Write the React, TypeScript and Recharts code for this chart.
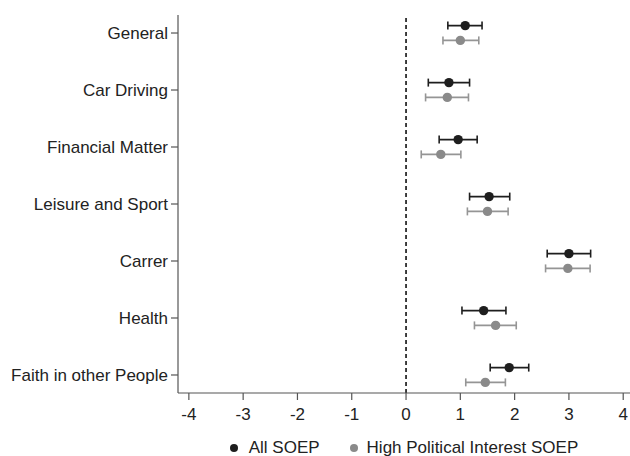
import React from 'react';
import { ScatterChart, Scatter, XAxis, YAxis, ErrorBar, ReferenceLine, Legend } from 'recharts';

const categories = [
  'General',
  'Car Driving',
  'Financial Matter',
  'Leisure and Sport',
  'Carrer',
  'Health',
  'Faith in other People',
];

const allEstimate = [1.09, 0.79, 0.96, 1.53, 3.0, 1.43, 1.9];
const allLower = [0.77, 0.41, 0.61, 1.17, 2.6, 1.03, 1.55];
const allUpper = [1.4, 1.17, 1.31, 1.91, 3.4, 1.84, 2.26];

const highEstimate = [1.0, 0.76, 0.64, 1.5, 2.98, 1.65, 1.46];
const highLower = [0.68, 0.36, 0.28, 1.13, 2.57, 1.26, 1.1];
const highUpper = [1.34, 1.15, 1.01, 1.88, 3.39, 2.03, 1.83];

const xTicks = [-4, -3, -2, -1, 0, 1, 2, 3, 4];
const rowTicks = [0, 1, 2, 3, 4, 5, 6];

const seriesNames = ['All SOEP', 'High Political Interest SOEP'];

const BLACK = '#1e1e1e';
const GRAY = '#8a8a8a';
const GRAY_BAR = '#959595';
const FONT = '"Liberation Sans", Arial, Helvetica, sans-serif';

const ROW_SHIFT = 0.13;

const buildRows = (est: number[], lo: number[], hi: number[], shift: number) =>
  est.map((v, i) => ({
    name: categories[i],
    x: v,
    y: i + shift,
    err: [v - lo[i], hi[i] - v],
  }));

const allData = buildRows(allEstimate, allLower, allUpper, -ROW_SHIFT);
const highData = buildRows(highEstimate, highLower, highUpper, ROW_SHIFT);

const dotShape = (color: string) => (props: any) => {
  const { cx, cy } = props;
  if (cx == null || cy == null) return <g />;
  return <circle cx={cx} cy={cy} r={4.7} fill={color} />;
};

const renderLegend = () => (
  <div
    style={{
      display: 'flex',
      justifyContent: 'center',
      alignItems: 'center',
      height: 24,
      fontFamily: FONT,
      fontSize: 17,
      color: '#222',
    }}
  >
    <span style={{ display: 'inline-block', width: 8, height: 8, borderRadius: 4, background: BLACK, marginRight: 11 }} />
    <span style={{ marginRight: 30 }}>{seriesNames[0]}</span>
    <span style={{ display: 'inline-block', width: 8, height: 8, borderRadius: 4, background: GRAY, marginRight: 9 }} />
    <span>{seriesNames[1]}</span>
  </div>
);

export default function App() {
  return (
    <div style={{ position: 'absolute', left: 0, top: 0, width: 630, height: 456, background: '#fff', fontFamily: FONT }}>
      <ScatterChart
        width={630}
        height={456}
        margin={{ top: 15, right: 0, bottom: 9, left: 0 }}
        style={{ fontFamily: FONT }}
      >
        <XAxis
          type="number"
          dataKey="x"
          domain={[-4.2, 4.125]}
          ticks={xTicks}
          allowDataOverflow
          height={30}
          tickSize={7}
          tickMargin={8}
          stroke="#555"
          strokeWidth={1.2}
          tick={{ fill: '#222', fontSize: 17, fontFamily: FONT }}
        />
        <YAxis
          type="number"
          dataKey="y"
          domain={[-0.316, 6.316]}
          reversed
          ticks={rowTicks}
          interval={0}
          allowDataOverflow
          width={178}
          tickSize={7}
          tickMargin={3}
          stroke="#555"
          strokeWidth={1.2}
          tickFormatter={(v: number) => categories[v] ?? ''}
          tick={{ fill: '#222', fontSize: 17, fontFamily: FONT }}
        />
        <ReferenceLine x={0} stroke="#111" strokeWidth={1.6} strokeDasharray="4 3" />
        <Legend verticalAlign="bottom" content={renderLegend} wrapperStyle={{ top: 436, bottom: 'auto', left: 178, width: 452 }} />
        <Scatter name={seriesNames[1]} data={highData} fill={GRAY} shape={dotShape(GRAY)} isAnimationActive={false}>
          <ErrorBar dataKey="err" direction="x" width={4} stroke={GRAY_BAR} strokeWidth={1.6} isAnimationActive={false} />
        </Scatter>
        <Scatter name={seriesNames[0]} data={allData} fill={BLACK} shape={dotShape(BLACK)} isAnimationActive={false}>
          <ErrorBar dataKey="err" direction="x" width={4} stroke={BLACK} strokeWidth={1.6} isAnimationActive={false} />
        </Scatter>
      </ScatterChart>
    </div>
  );
}
